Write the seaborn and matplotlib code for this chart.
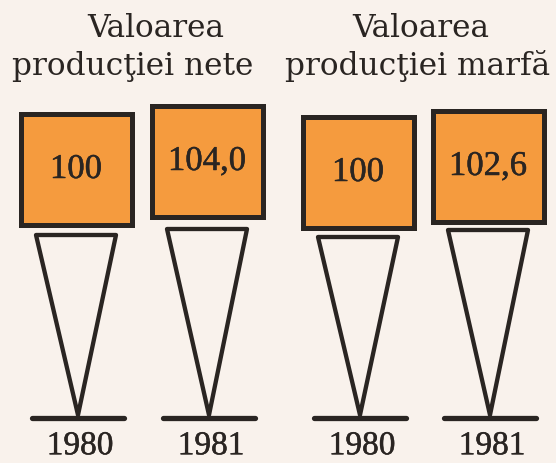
import matplotlib
matplotlib.use("Agg")
import matplotlib.pyplot as plt
import matplotlib.patheffects as pe
from matplotlib.patches import Rectangle, Polygon
import seaborn as sns

# ---- data ----
group_titles = [["Valoarea", "producţiei nete"], ["Valoarea", "producţiei marfă"]]
years = ["1980", "1981", "1980", "1981"]
values = [100, 104.0, 100, 102.6]
value_labels = ["100", "104,0", "100", "102,6"]

# ---- layout / style ----
BG = "#f9f2ec"
ORANGE = "#f59b3e"
INK = "#2a2522"
box_cx = [76, 207, 358, 488]
box_top = [115, 107, 118, 112]
box_size = 111
funnel_top = [236, 230, 238, 231]
funnel_halfw = 40
apex_y = 416
base_y = 419
base_halfw = 46
year_y = 447
title_pos = [[(156, 37), (133, 75)], [(421, 37), (418, 75)]]

sns.set_theme(style="white")
plt.rcParams["font.family"] = ["Liberation Serif", "DejaVu Serif"]

thick = [pe.withStroke(linewidth=0.35, foreground=INK)]

fig = plt.figure(figsize=(5.56, 4.64), dpi=100, facecolor=BG)
ax = fig.add_axes([0, 0, 1, 1])
ax.set_facecolor(BG)
ax.set_xlim(0, 556)
ax.set_ylim(464, 0)
ax.axis("off")

for g, lines in enumerate(group_titles):
    for (x, y), txt in zip(title_pos[g], lines):
        ax.text(x, y, txt, ha="center", va="baseline", fontsize=22.5,
                family=["DejaVu Serif"], color=INK)

for i, (v, lab, yr) in enumerate(zip(values, value_labels, years)):
    cx = box_cx[i]
    ax.add_patch(Rectangle((cx - box_size / 2, box_top[i]), box_size, box_size,
                           facecolor=ORANGE, edgecolor=INK, lw=3.6, joinstyle="miter"))
    ax.text(cx, box_top[i] + box_size * 0.5, lab, ha="center", va="center",
            fontsize=25, color=INK, path_effects=thick)
    ft = funnel_top[i]
    ax.add_patch(Polygon([(cx - funnel_halfw, ft), (cx + funnel_halfw, ft), (cx + 2, apex_y)],
                         closed=True, facecolor="none", edgecolor=INK, lw=3.1,
                         joinstyle="round"))
    ax.plot([cx + 2 - base_halfw, cx + 2 + base_halfw], [base_y, base_y], color=INK,
            lw=3.8, solid_capstyle="round")
    ax.text(cx + 4, year_y, yr, ha="center", va="center", fontsize=24, color=INK,
            path_effects=thick)

fig.savefig("out.png", dpi=100, facecolor=BG)
